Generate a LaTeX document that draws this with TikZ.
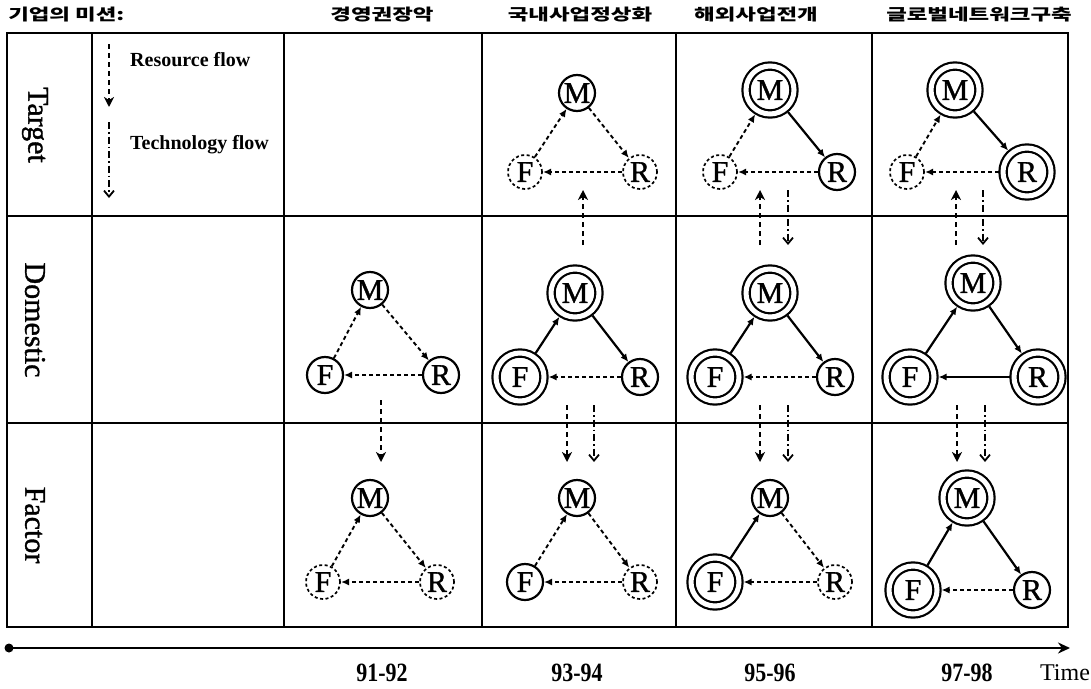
\documentclass[tikz,border=0pt]{standalone}
\usepackage{fontspec}
\setmainfont{Liberation Serif}
\newfontfamily\kr{Noto Sans CJK KR}
\newfontfamily\thickserif{Liberation Serif}[FakeBold=1.2]
\usetikzlibrary{arrows.meta}
\begin{document}
\begin{tikzpicture}[x=1pt,y=-1pt,
  grid/.style={line width=2.4pt},
  sgl/.style={circle,draw,line width=2.2pt,minimum size=36pt,inner sep=0pt,outer sep=1pt,font=\thickserif\fontsize{30}{30}\selectfont},
  dcirc/.style={circle,draw,line width=1.7pt,dash pattern=on 3pt off 2.5pt,minimum size=34pt,inner sep=0pt,outer sep=1pt,font=\thickserif\fontsize{30}{30}\selectfont},
  dbl/.style={circle,draw,line width=2.2pt,double,double distance=5pt,minimum size=48pt,inner sep=0pt,outer sep=4.5pt,font=\thickserif\fontsize{30}{30}\selectfont},
  sol/.style={line width=2.2pt,-{Latex[length=8pt,width=7pt]}},
  dsh/.style={line width=1.9pt,dash pattern=on 4pt off 3pt,-{Latex[length=8pt,width=7pt]}},
  res/.style={line width=2.3pt,dash pattern=on 5pt off 4pt,-{Stealth[length=10pt,width=10pt,inset=3pt]}},
  tech/.style={line width=1.6pt,dash pattern=on 7pt off 3pt on 1.5pt off 3pt,-{Straight Barb[length=6pt,width=10pt,line width=1.8pt]}},
  hdr/.style={font=\kr\bfseries\fontsize{16}{16}\selectfont,xscale=1.4,inner sep=0pt},
  rowlab/.style={font=\thickserif\fontsize{30}{30}\selectfont,rotate=-90,inner sep=0pt},
  leg/.style={font=\bfseries\fontsize{20}{20}\selectfont,anchor=west,inner sep=0pt},
  yr/.style={font=\bfseries\fontsize{22}{22}\selectfont,yscale=1.2,inner sep=0pt}
]
\useasboundingbox (0,0) rectangle (1091,688);
% headers
\node[hdr,anchor=west] (h0) at (8,15) {기업의 미션:};
\node[hdr] (h1) at (382,15) {경영권장악};
\node[hdr] (h2) at (580,15) {국내사업정상화};
\node[hdr] (h3) at (756,15) {해외사업전개};
\node[hdr] (h4) at (979,15) {글로벌네트워크구축};
% grid
\draw[grid] (7,33) rectangle (1068,627);
\foreach \x in {92,284,482,676,872} \draw[grid] (\x,33) -- (\x,627);
\draw[grid] (7,216) -- (1068,216);
\draw[grid] (7,423) -- (1068,423);
% row labels
\node[rowlab] (t) at (35,125) {Target};
\node[rowlab] (d) at (35,320) {Domestic};
\node[rowlab] (f) at (35,525) {Factor};
% legend
\coordinate (l1a) at (109,44); \coordinate (l1b) at (109,107);
\coordinate (l2a) at (109,122); \coordinate (l2b) at (109,198);
\draw[res] (l1a) -- (l1b);
\draw[tech] (l2a) -- (l2b);
\node[leg] (lt1) at (130,60) {Resource flow};
\node[leg] (lt2) at (130,145) {Technology flow};
% ---- column A 91-92
\node[sgl] (MA2) at (370,290) {M};
\node[sgl] (FA2) at (325,375) {F};
\node[sgl] (RA2) at (441,375) {R};
\draw[dsh] (FA2) -- (MA2); \draw[dsh] (MA2) -- (RA2); \draw[dsh] (RA2) -- (FA2);
\node[sgl] (MA3) at (370,498) {M};
\node[dcirc] (FA3) at (323,582) {F};
\node[dcirc] (RA3) at (437,582) {R};
\draw[dsh] (FA3) -- (MA3); \draw[dsh] (MA3) -- (RA3); \draw[dsh] (RA3) -- (FA3);
\coordinate (a1) at (381,400); \coordinate (a2) at (381,462);
\draw[res] (a1) -- (a2);
% ---- column B 93-94
\node[sgl] (MB1) at (577,93) {M};
\node[dcirc] (FB1) at (525,172) {F};
\node[dcirc] (RB1) at (640,172) {R};
\draw[dsh] (FB1) -- (MB1); \draw[dsh] (MB1) -- (RB1); \draw[dsh] (RB1) -- (FB1);
\node[dbl] (MB2) at (575,293) {M};
\node[dbl] (FB2) at (520,377) {F};
\node[sgl] (RB2) at (640,377) {R};
\draw[sol] (FB2) -- (MB2); \draw[sol] (MB2) -- (RB2); \draw[dsh] (RB2) -- (FB2);
\node[sgl] (MB3) at (577,498) {M};
\node[sgl] (FB3) at (525,582) {F};
\node[dcirc] (RB3) at (640,582) {R};
\draw[dsh] (FB3) -- (MB3); \draw[dsh] (MB3) -- (RB3); \draw[dsh] (RB3) -- (FB3);
\coordinate (b1) at (583,245); \coordinate (b2) at (583,190);
\draw[res] (b1) -- (b2);
\coordinate (b3) at (567,405); \coordinate (b4) at (567,462);
\coordinate (b5) at (594,405); \coordinate (b6) at (594,462);
\draw[res] (b3) -- (b4); \draw[tech] (b5) -- (b6);
% ---- column C 95-96
\node[dbl] (MC1) at (770,90) {M};
\node[dcirc] (FC1) at (720,172) {F};
\node[sgl] (RC1) at (837,172) {R};
\draw[dsh] (FC1) -- (MC1); \draw[sol] (MC1) -- (RC1); \draw[dsh] (RC1) -- (FC1);
\node[dbl] (MC2) at (770,293) {M};
\node[dbl] (FC2) at (715,377) {F};
\node[sgl] (RC2) at (835,377) {R};
\draw[sol] (FC2) -- (MC2); \draw[sol] (MC2) -- (RC2); \draw[dsh] (RC2) -- (FC2);
\node[sgl] (MC3) at (770,498) {M};
\node[dbl] (FC3) at (715,582) {F};
\node[dcirc] (RC3) at (835,582) {R};
\draw[sol] (FC3) -- (MC3); \draw[dsh] (MC3) -- (RC3); \draw[dsh] (RC3) -- (FC3);
\coordinate (c1) at (760,245); \coordinate (c2) at (760,190);
\coordinate (c3) at (788,190); \coordinate (c4) at (788,245);
\draw[res] (c1) -- (c2); \draw[tech] (c3) -- (c4);
\coordinate (c5) at (760,405); \coordinate (c6) at (760,462);
\coordinate (c7) at (788,405); \coordinate (c8) at (788,462);
\draw[res] (c5) -- (c6); \draw[tech] (c7) -- (c8);
% ---- column D 97-98
\node[dbl] (MD1) at (955,90) {M};
\node[dcirc] (FD1) at (907,172) {F};
\node[dbl] (RD1) at (1027,172) {R};
\draw[dsh] (FD1) -- (MD1); \draw[sol] (MD1) -- (RD1); \draw[dsh] (RD1) -- (FD1);
\node[dbl] (MD2) at (973,283) {M};
\node[dbl] (FD2) at (910,377) {F};
\node[dbl] (RD2) at (1038,377) {R};
\draw[sol] (FD2) -- (MD2); \draw[sol] (MD2) -- (RD2); \draw[sol] (RD2) -- (FD2);
\node[dbl] (MD3) at (967,498) {M};
\node[dbl] (FD3) at (913,590) {F};
\node[sgl] (RD3) at (1032,590) {R};
\draw[sol] (FD3) -- (MD3); \draw[sol] (MD3) -- (RD3); \draw[dsh] (RD3) -- (FD3);
\coordinate (d1) at (956,245); \coordinate (d2) at (956,190);
\coordinate (d3) at (983,190); \coordinate (d4) at (983,245);
\draw[res] (d1) -- (d2); \draw[tech] (d3) -- (d4);
\coordinate (d5) at (957,405); \coordinate (d6) at (957,462);
\coordinate (d7) at (985,405); \coordinate (d8) at (985,462);
\draw[res] (d5) -- (d6); \draw[tech] (d7) -- (d8);
% timeline
\coordinate (ts) at (9,648); \coordinate (te) at (1070,648);
\fill (ts) circle (4.5pt);
\draw[line width=2.6pt,-{Stealth[length=12pt,width=11pt]}] (ts) -- (te);
\node[yr] (y1) at (382,673) {91-92};
\node[yr] (y2) at (577,673) {93-94};
\node[yr] (y3) at (770,673) {95-96};
\node[yr] (y4) at (967,673) {97-98};
\node[font=\fontsize{24}{24}\selectfont,inner sep=0pt] (tm) at (1065,673) {Time};
\end{tikzpicture}
\end{document}
